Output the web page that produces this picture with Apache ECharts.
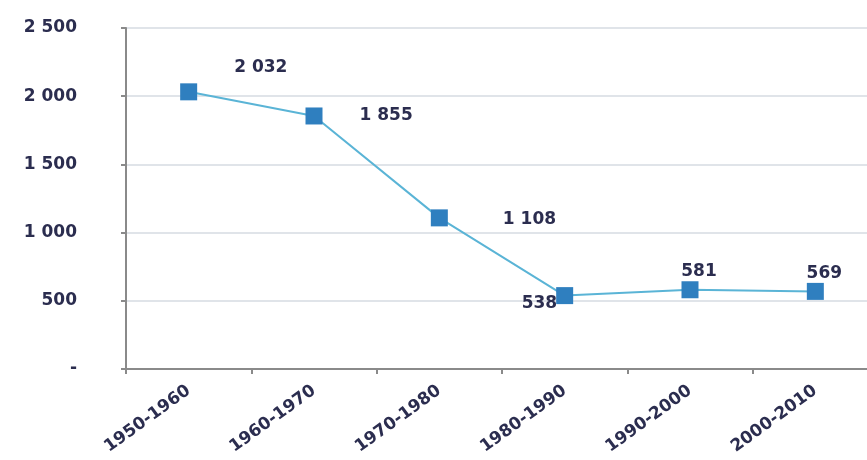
<!DOCTYPE html>
<html><head><meta charset="utf-8">
<script src="https://cdn.jsdelivr.net/npm/echarts@6/dist/echarts.min.js"></script>
<style>html,body{margin:0;padding:0;background:#fff}#c{width:867px;height:460px}</style>
</head><body><div id="c"></div>
<script>
const categories = ['1950-1960','1960-1970','1970-1980','1980-1990','1990-2000','2000-2010'];
const values = [2032, 1855, 1108, 538, 581, 569];
const yTicks = [0, 500, 1000, 1500, 2000, 2500];

function fmt(v){ if(v===0) return '-'; return String(v).replace(/\B(?=(\d{3})+(?!\d))/g,' '); }

const labelCfg = [
  {position:'right', offset:[32,-24]},
  {position:'right', offset:[32,0]},
  {position:'right', offset:[50,2]},
  {position:'left', offset:[6,8]},
  {position:'top', offset:[9,4]},
  {position:'top', offset:[9,4]}
];

const chart = echarts.init(document.getElementById('c'));
chart.setOption({
  backgroundColor:'#ffffff',
  animation:false,
  grid:{left:126, top:28, width:752, height:341, containLabel:false, outerBoundsMode:'none'},
  xAxis:{type:'category', data:categories, boundaryGap:true,
    axisLine:{lineStyle:{color:'#8a8a8a', width:2}},
    axisTick:{show:true, length:5, lineStyle:{color:'#8a8a8a', width:2}},
    axisLabel:{rotate:36, color:'#2b2d4f', fontFamily:'DejaVu Sans', fontWeight:'bold', fontSize:17, margin:20, interval:0}
  },
  yAxis:{type:'value', min:0, max:2500, interval:500,
    axisLine:{show:true, lineStyle:{color:'#8a8a8a', width:2}},
    axisTick:{show:true, length:5, lineStyle:{color:'#8a8a8a', width:2}},
    splitLine:{lineStyle:{color:'#d6dbe2', width:1.5}},
    axisLabel:{formatter:fmt, color:'#2b2d4f', fontFamily:'DejaVu Sans', fontWeight:'bold', fontSize:17, margin:49}
  },
  series:[{
    type:'line',
    data:values.map((v,i)=>({value:v, label:labelCfg[i]})),
    symbol:'rect', symbolSize:17,
    itemStyle:{color:'#2f7fbf'},
    lineStyle:{color:'#5ab4d6', width:2},
    label:{show:true, formatter:p=>fmt(p.value), color:'#2b2d4f', fontFamily:'DejaVu Sans', fontWeight:'bold', fontSize:17}
  }]
});
</script></body></html>
